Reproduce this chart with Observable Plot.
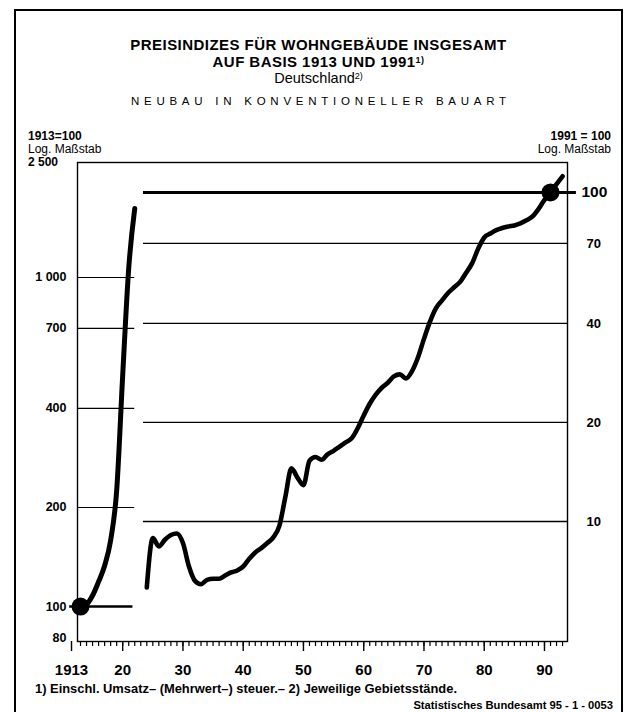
<!DOCTYPE html>
<html><head><meta charset="utf-8">
<script src="https://cdn.jsdelivr.net/npm/d3@7"></script>
<script src="https://cdn.jsdelivr.net/npm/@observablehq/plot@0.6"></script>
<style>
body{margin:0;background:#fff;}
#wrap{position:relative;width:625px;height:712px;overflow:hidden;font-family:"Liberation Sans",Arial,Helvetica,sans-serif;color:#000;background:#fff;}
#chart{position:absolute;left:0;top:0;}
.t{position:absolute;white-space:nowrap;z-index:2;}
.c{left:0;width:637px;text-align:center;}
#border{position:absolute;left:14px;top:9px;width:605px;height:720px;border:2px solid #000;border-bottom:none;z-index:3;}
sup{font-size:9px;line-height:0;vertical-align:0;position:relative;top:-0.4em;}
</style></head><body>
<div id="wrap">
  <div id="chart"></div>
  <div id="border"></div>
  <div class="t c" style="top:36px;line-height:17px;font-size:15px;font-weight:bold;letter-spacing:0.45px;">PREISINDIZES FÜR WOHNGEBÄUDE INSGESAMT</div>
  <div class="t c" style="top:53px;line-height:17px;font-size:15px;font-weight:bold;letter-spacing:0.45px;">AUF BASIS 1913 UND 1991<sup>1)</sup></div>
  <div class="t c" style="top:70px;line-height:17px;font-size:14.5px;">Deutschland<sup>2)</sup></div>
  <div class="t c" style="top:94px;line-height:14px;font-size:11.5px;letter-spacing:4.75px;padding-left:4.75px;box-sizing:border-box;">NEUBAU IN KONVENTIONELLER BAUART</div>
  <div class="t" style="left:28px;top:130px;line-height:13px;font-size:12px;font-weight:bold;">1913=100</div>
  <div class="t" style="left:28px;top:143px;line-height:13px;font-size:12px;">Log. Maßstab</div>
  <div class="t" style="left:28px;top:156px;line-height:13px;font-size:12px;font-weight:bold;">2 500</div>
  <div class="t" style="right:14px;top:130px;line-height:13px;font-size:12px;font-weight:bold;">1991 = 100</div>
  <div class="t" style="right:14px;top:143px;line-height:13px;font-size:12px;">Log. Maßstab</div>
  <div class="t" style="left:35px;top:682px;line-height:14px;font-size:12.9px;font-weight:bold;">1) Einschl. Umsatz– (Mehrwert–) steuer.– 2) Jeweilige Gebietsstände.</div>
  <div class="t" style="right:12px;top:699px;line-height:13px;font-size:11.2px;font-weight:bold;">Statistisches Bundesamt 95 - 1 - 0053</div>
</div>
<script>
// ---- data ----
// Index 1913 = 100 (left scale), 1913–1922
const leftYears  = [1913, 1914, 1915, 1916, 1917, 1918, 1919, 1920, 1921, 1922];
const leftValues = [100, 101.5, 108, 119, 133, 159, 225, 504, 1066, 1620];
// Index 1991 = 100 (right scale), 1924–1993
const rightYears = [1924,1925,1926,1927,1928,1929,1930,1931,1932,1933,1934,1935,1936,1937,1938,1939,
  1940,1941,1942,1943,1944,1945,1946,1947,1948,1949,1950,1951,1952,1953,1954,1955,1956,1957,1958,1959,
  1960,1961,1962,1963,1964,1965,1966,1967,1968,1969,1970,1971,1972,1973,1974,1975,1976,1977,1978,1979,
  1980,1981,1982,1983,1984,1985,1986,1987,1988,1989,1990,1991,1992,1993];
const rightValues = [6.3,8.9,8.4,8.8,9.1,9.2,8.6,7.3,6.6,6.45,6.65,6.7,6.7,6.85,7.0,7.1,
  7.3,7.7,8.05,8.3,8.6,8.95,9.7,11.9,14.5,13.6,12.9,15.3,15.7,15.4,16.0,16.4,16.9,17.4,17.9,19.2,
  21.0,22.8,24.3,25.5,26.4,27.6,28.0,27.2,28.6,31.5,35.9,40.5,44.5,47.0,49.5,51.5,53.5,57.0,61.0,67.5,
  73.0,75.0,76.8,78.0,78.8,79.4,80.5,82.3,84.5,89.0,95.0,100,106,112];
const level1991on1913 = 1813;
// base points (circles)
const baseLeft  = {year: 1913, value: 100};
const baseRight = {year: 1991, value: 100};
// tick values / labels
const leftTicks  = [80, 100, 200, 400, 700, 1000];
const leftLabels = ["80", "100", "200", "400", "700", "1 000"];
const leftGrid   = [200, 400, 700, 1000];
const rightTicks = [10, 20, 40, 70];
const rightTop   = 100;
const xMinorTicks = d3.range(1913, 1994);
const xMajorTicks = [1920, 1930, 1940, 1950, 1960, 1970, 1980, 1990];
const xMajorLabels = ["20", "30", "40", "50", "60", "70", "80", "90"];
const xFirstTick = 1913, xFirstLabel = "1913";

// ---- build ----
const K = level1991on1913 / 100;
const left = leftYears.map((y, i) => ({year: y, value: leftValues[i]}));
const right = rightYears.map((y, i) => ({year: y, value: rightValues[i] * K}));
const leftFmt = new Map(leftTicks.map((t, i) => [t, leftLabels[i]]));
const xFmt = new Map(xMajorTicks.map((t, i) => [t, xMajorLabels[i]]));
const xDomain = [1912.5, 1993.82];
const font = '"Liberation Sans", Arial, Helvetica, sans-serif';

const chart = Plot.plot({
  width: 625, height: 712,
  marginTop: 162, marginBottom: 71, marginLeft: 77, marginRight: 58,
  style: {background: "transparent", fontFamily: font, color: "#000"},
  x: {domain: xDomain, axis: null, label: null},
  y: {type: "log", domain: [78.3, 2236], axis: null, label: null},
  marks: [
    Plot.ruleY(leftGrid, {x1: 1912.5, x2: 1922, stroke: "#000", strokeWidth: 1.2}),
    Plot.ruleY(rightTicks.map(v => v * K), {x1: 1923.45, x2: xDomain[1], stroke: "#000", strokeWidth: 1.3}),
    Plot.ruleY([100], {x1: 1911.2, x2: 1921.7, stroke: "#000", strokeWidth: 2.6}),
    Plot.ruleY([rightTop * K], {x1: 1923.45, x2: 1995.3, stroke: "#000", strokeWidth: 3}),
    Plot.frame({stroke: "#000", strokeWidth: 1.4}),
    Plot.line(left, {x: "year", y: "value", stroke: "#000", strokeWidth: 5, curve: "monotone-x", strokeLinejoin: "round", strokeLinecap: "round"}),
    Plot.line(right, {x: "year", y: "value", stroke: "#000", strokeWidth: 4.6, curve: "monotone-x", strokeLinejoin: "round", strokeLinecap: "round"}),
    Plot.dot([baseLeft], {x: "year", y: "value", r: 9, fill: "#000", stroke: "none"}),
    Plot.dot([baseRight], {x: "year", y: d => d.value * K, r: 9, fill: "#000", stroke: "none"}),
    Plot.axisX(xMinorTicks, {anchor: "bottom", tickSize: 5, strokeWidth: 1.2, tickFormat: () => "", label: null}),
    Plot.axisX(xMajorTicks, {anchor: "bottom", tickSize: 10, tickPadding: 13, strokeWidth: 1.4, tickFormat: d => xFmt.get(d), fontSize: 15, fontWeight: "bold", label: null}),
    Plot.axisX([xFirstTick], {anchor: "bottom", tickSize: 10, tickPadding: 13, strokeWidth: 1.4, tickFormat: () => xFirstLabel, dx: -9, fontSize: 15, fontWeight: "bold", label: null}),
    Plot.axisY(leftTicks, {anchor: "left", tickSize: 0, tickPadding: 11, tickFormat: d => leftFmt.get(d), fontSize: 12.5, fontWeight: "bold", label: null}),
    Plot.axisY(rightTicks.map(v => v * K), {anchor: "right", tickSize: 0, tickPadding: 19, tickFormat: d => String(Math.round(d / K)), fontSize: 13, fontWeight: "bold", label: null}),
    Plot.axisY([rightTop * K], {anchor: "right", tickSize: 0, tickPadding: 14, tickFormat: d => String(Math.round(d / K)), fontSize: 15.5, fontWeight: "bold", label: null})
  ]
});
document.getElementById("chart").appendChild(chart);
</script>
</body></html>
